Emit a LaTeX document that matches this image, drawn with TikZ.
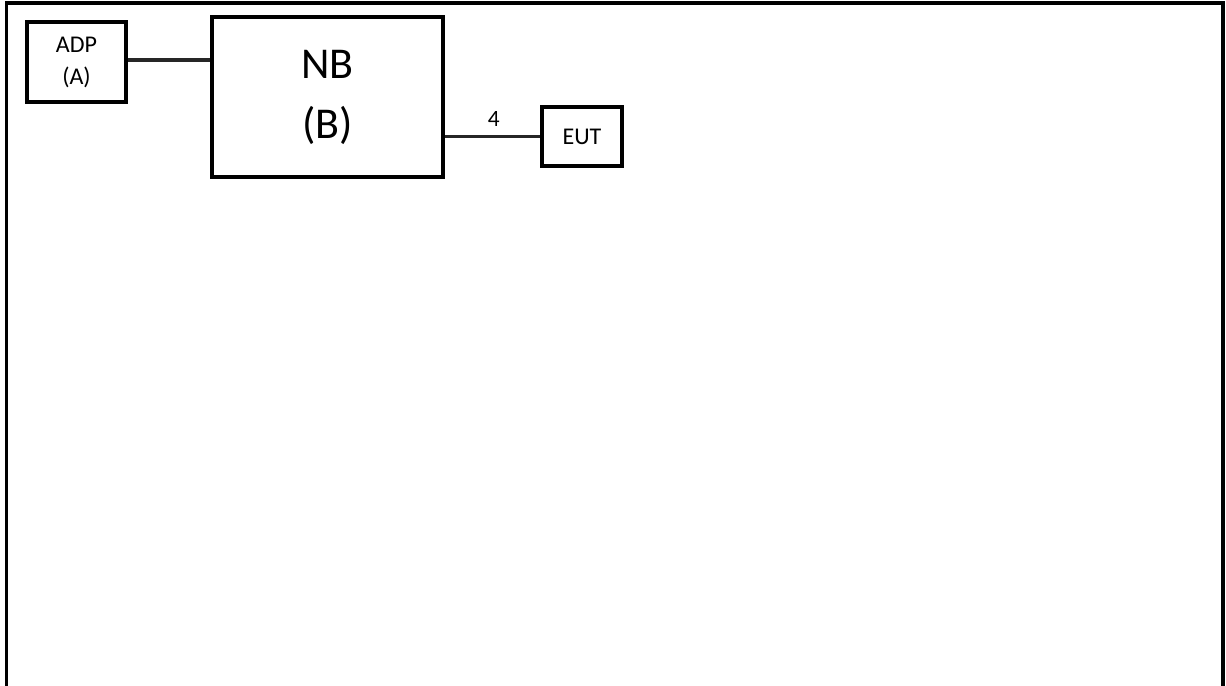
\documentclass[tikz,border=0pt]{standalone}
\usepackage{fontspec}
\setmainfont{Carlito}
\begin{document}
\begin{tikzpicture}[x=0.75pt,y=-0.75pt,
  box/.style={draw=black,line width=2.4pt,inner sep=0pt,align=center},
  wire/.style={draw=black!85,line width=2.3pt}]
\useasboundingbox (0,0) rectangle (1226,685);
\draw[line width=2.4pt] (6.5,690) -- (6.5,3) -- (1223,3) -- (1223,690);
\node[box,minimum width=99*0.75pt,minimum height=80*0.75pt,
  font=\fontsize{18}{24}\selectfont] (adp) at (76.5,62) {ADP\\(A)};
\node[box,minimum width=231*0.75pt,minimum height=160*0.75pt,
  font=\fontsize{33}{45}\selectfont] (nb) at (327.5,97) {NB\\(B)};
\node[box,minimum width=80*0.75pt,minimum height=59*0.75pt,
  font=\fontsize{18}{22}\selectfont] (eut) at (582,136.5) {EUT};
\draw[wire] (adp.east |- 0,60) -- (nb.west |- 0,60);
\draw[wire] (nb.east |- eut.west) -- node[above=3pt,font=\fontsize{17.5}{20}\selectfont,xshift=1pt] (lbl) {4} (eut.west);
\end{tikzpicture}
\end{document}
